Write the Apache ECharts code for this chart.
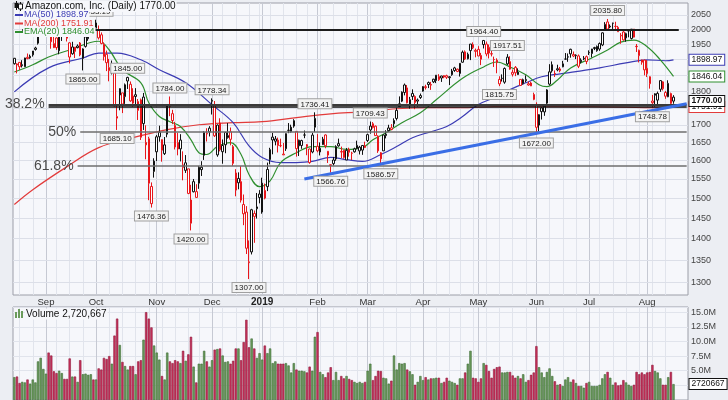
<!DOCTYPE html>
<html><head><meta charset="utf-8">
<script src="https://cdn.jsdelivr.net/npm/echarts@6/dist/echarts.min.js"></script>
<style>html,body{margin:0;padding:0;background:#eceef3}#c{width:728px;height:400px}</style>
</head><body><div id="c"></div>
<script>
// ---------- DATA ----------
const tradingDays = [
  ['2018-08',[16,17,20,21,22,23,24,27,28,29,30,31]],
  ['2018-09',[4,5,6,7,10,11,12,13,14,17,18,19,20,21,24,25,26,27,28]],
  ['2018-10',[1,2,3,4,5,8,9,10,11,12,15,16,17,18,19,22,23,24,25,26,29,30,31]],
  ['2018-11',[1,2,5,6,7,8,9,12,13,14,15,16,19,20,21,23,26,27,28,29,30]],
  ['2018-12',[3,4,6,7,10,11,12,13,14,17,18,19,20,21,24,26,27,28,31]],
  ['2019-01',[2,3,4,7,8,9,10,11,14,15,16,17,18,22,23,24,25,28,29,30,31]],
  ['2019-02',[1,4,5,6,7,8,11,12,13,14,15,19,20,21,22,25,26,27,28]],
  ['2019-03',[1,4,5,6,7,8,11,12,13,14,15,18,19,20,21,22,25,26,27,28,29]],
  ['2019-04',[1,2,3,4,5,8,9,10,11,12,15,16,17,18,22,23,24,25,26,29,30]],
  ['2019-05',[1,2,3,6,7,8,9,10,13,14,15,16,17,20,21,22,23,24,28,29,30,31]],
  ['2019-06',[3,4,5,6,7,10,11,12,13,14,17,18,19,20,21,24,25,26,27,28]],
  ['2019-07',[1,2,3,5,8,9,10,11,12,15,16,17,18,19,22,23,24,25,26,29,30,31]],
  ['2019-08',[1,2,5,6,7,8,9,12,13,14,15]]
];
const emptySlots = ['e1','e2','e3','e4','e5'];
const prevClose = 1882.62;
// [open, high, low, close]
const ohlc = [
 [1903.9,1905.0,1883.6,1886.5],[1885.8,1888.0,1855.6,1882.2],[1890.6,1891.8,1866.1,1876.7],[1880.0,1897.8,1874.4,1883.4],
 [1876.6,1905.8,1876.6,1904.9],[1907.2,1919.5,1900.8,1902.9],[1910.5,1916.0,1902.5,1905.4],[1915.0,1927.7,1909.3,1927.7],
 [1937.7,1941.8,1928.9,1932.8],[1953.5,1998.7,1948.9,1998.1],[1997.4,2025.6,1986.9,2002.4],[2007.0,2022.4,2004.7,2012.7],
 // Sep
 [2026.5,2050.5,2013.0,2039.5],[2038.1,2040.4,1989.9,1994.8],[2006.5,2007.5,1935.2,1958.3],[1938.7,1975.2,1937.4,1952.1],
 [1971.0,1973.0,1931.5,1939.0],[1928.3,1988.9,1917.0,1987.2],[1994.0,1994.0,1961.0,1990.0],[2000.0,2009.8,1986.2,1989.9],
 [1992.9,1993.7,1959.2,1970.2],[1954.7,1956.8,1887.4,1908.0],[1918.7,1958.2,1915.4,1941.0],[1940.5,1940.8,1904.9,1926.4],
 [1938.8,1949.5,1936.5,1944.3],[1954.2,1957.3,1910.5,1915.0],[1903.8,1936.5,1865.0,1934.4],[1942.9,1975.9,1938.9,1974.6],
 [1968.5,1995.3,1961.5,1974.9],[1993.2,2016.2,1988.6,2013.0],[2004.4,2026.5,1996.5,2003.0],
 // Oct
 [2021.99,2033.19,2003.6,2004.4],[1999.0,2013.4,1965.8,1971.3],[1981.7,1989.7,1949.8,1952.8],[1949.0,1956.0,1896.6,1909.4],
 [1917.0,1929.1,1862.8,1889.7],[1874.0,1902.0,1830.7,1864.4],[1860.0,1896.7,1852.3,1870.3],[1857.9,1858.6,1754.4,1755.3],
 [1724.0,1755.4,1685.1,1719.4],[1808.0,1809.0,1742.5,1788.6],[1795.0,1795.1,1734.2,1761.0],[1783.5,1823.9,1761.6,1820.0],
 [1842.8,1845.0,1807.0,1831.7],[1821.5,1830.2,1767.9,1770.7],[1785.2,1809.1,1753.0,1764.0],[1784.0,1809.5,1756.0,1789.3],
 [1742.2,1776.3,1714.0,1768.7],[1773.7,1777.7,1656.6,1664.2],[1703.3,1794.8,1685.0,1782.2],[1649.6,1698.5,1603.0,1642.8],
 [1660.0,1665.7,1495.0,1538.9],[1486.2,1541.0,1476.36,1530.4],[1570.0,1605.7,1553.6,1598.0],
 // Nov
 [1623.5,1670.5,1598.4,1665.5],[1678.6,1697.4,1651.8,1665.5],[1657.6,1658.1,1596.4,1627.8],[1618.4,1665.0,1614.6,1642.8],
 [1673.0,1759.2,1664.1,1755.5],[1755.0,1784.0,1725.1,1754.9],[1732.5,1743.9,1701.9,1712.4],[1698.2,1708.6,1630.0,1636.9],
 [1649.3,1677.1,1613.8,1631.2],[1656.3,1673.0,1597.1,1631.6],[1581.0,1624.8,1546.5,1587.8],[1573.0,1614.5,1566.0,1593.4],
 [1577.0,1577.0,1510.4,1512.3],[1437.5,1534.8,1420.0,1495.5],[1543.0,1550.0,1515.0,1516.7],[1517.0,1536.2,1501.8,1502.1],
 [1539.0,1584.8,1524.2,1581.3],[1575.0,1597.7,1558.0,1581.4],[1613.9,1681.5,1601.2,1677.8],[1675.0,1690.0,1652.3,1673.6],
 [1679.5,1696.0,1666.5,1690.2],
 // Dec
 [1769.5,1778.34,1730.0,1772.4],[1756.0,1770.3,1665.0,1668.4],[1614.9,1701.1,1609.9,1699.2],[1705.1,1718.9,1624.7,1629.1],
 [1623.8,1658.0,1590.9,1641.0],[1678.0,1679.5,1619.6,1643.2],[1669.0,1705.0,1660.3,1663.5],[1680.0,1692.1,1641.5,1658.4],
 [1638.0,1642.6,1585.0,1591.9],[1566.0,1576.1,1505.0,1520.9],[1540.0,1567.6,1523.0,1551.5],[1543.1,1584.5,1489.0,1495.1],
 [1484.0,1509.5,1432.7,1460.8],[1465.0,1480.0,1364.0,1377.5],[1346.0,1396.0,1307.0,1344.0],[1368.9,1473.2,1363.0,1470.9],
 [1454.2,1469.0,1390.3,1461.6],[1473.4,1513.5,1449.0,1478.0],[1510.8,1520.8,1487.0,1502.0],
 // Jan
 [1465.2,1553.4,1460.9,1539.1],[1520.0,1538.0,1497.1,1500.3],[1530.0,1594.0,1518.3,1575.4],[1602.3,1634.6,1589.2,1629.5],
 [1664.7,1676.6,1616.6,1656.6],[1653.0,1667.8,1641.4,1659.4],[1641.0,1663.3,1621.6,1656.2],[1640.6,1660.3,1636.2,1640.6],
 [1615.0,1648.2,1614.7,1617.2],[1632.0,1675.2,1626.0,1674.6],[1684.2,1705.0,1675.9,1683.8],[1680.0,1700.2,1677.5,1693.2],
 [1712.0,1716.2,1691.5,1696.2],[1681.0,1681.9,1610.2,1632.2],[1656.0,1657.4,1612.0,1640.0],[1641.1,1657.3,1631.8,1654.9],
 [1670.5,1683.5,1661.6,1670.6],[1643.6,1645.0,1614.1,1637.9],[1631.3,1632.4,1590.7,1593.9],[1623.0,1677.0,1619.4,1670.4],
 [1692.9,1736.41,1679.1,1718.7],
 // Feb
 [1638.9,1673.1,1622.0,1626.2],[1623.0,1649.6,1613.5,1633.3],[1643.3,1665.3,1642.5,1658.8],[1670.8,1672.3,1633.3,1640.3],
 [1625.0,1625.5,1592.9,1614.4],[1586.0,1588.6,1566.76,1588.2],[1601.0,1609.3,1586.0,1591.0],[1604.0,1641.7,1598.9,1638.0],
 [1646.3,1660.4,1637.6,1640.0],[1624.5,1637.9,1606.4,1622.7],[1627.9,1628.9,1604.5,1608.0],[1601.0,1634.0,1600.6,1627.6],
 [1630.0,1634.9,1610.1,1622.1],[1619.9,1623.6,1600.9,1619.4],[1623.5,1634.9,1621.2,1631.6],[1641.5,1654.6,1630.4,1633.0],
 [1626.0,1640.0,1616.1,1636.4],[1628.2,1641.8,1615.1,1641.1],[1635.3,1651.8,1633.8,1639.8],
 // Mar
 [1655.1,1674.3,1651.0,1671.7],[1685.0,1709.43,1674.4,1696.2],[1703.0,1707.8,1689.0,1692.4],[1696.0,1697.8,1668.3,1669.0],
 [1667.4,1669.8,1620.5,1626.0],[1604.0,1622.7,1586.57,1620.8],[1626.1,1672.3,1626.0,1670.6],[1669.0,1684.3,1661.0,1673.1],
 [1683.0,1700.0,1679.4,1690.8],[1691.2,1702.0,1684.3,1686.2],[1703.0,1718.8,1693.1,1712.4],[1718.4,1750.0,1712.6,1742.2],
 [1753.5,1784.2,1753.5,1761.9],[1769.9,1799.5,1767.0,1797.3],[1796.3,1823.8,1787.3,1819.3],[1810.2,1819.0,1763.1,1764.8],
 [1757.8,1782.7,1747.5,1774.3],[1793.0,1805.8,1773.4,1783.8],[1784.1,1787.5,1745.7,1765.7],[1770.0,1777.9,1753.5,1773.4],
 [1786.6,1792.9,1776.6,1780.8],
 // Apr
 [1800.1,1815.7,1798.7,1814.2],[1811.0,1820.0,1805.1,1814.0],[1826.7,1830.0,1809.6,1820.7],[1820.7,1828.8,1804.2,1818.9],
 [1829.0,1838.6,1825.2,1837.3],[1833.2,1850.2,1825.1,1849.9],[1845.5,1853.1,1831.8,1835.8],[1841.0,1848.0,1828.8,1847.3],
 [1848.7,1850.0,1840.3,1844.1],[1848.4,1851.5,1838.0,1843.1],[1842.0,1846.9,1818.9,1844.9],[1851.4,1869.8,1848.0,1863.0],
 [1873.0,1876.5,1860.4,1864.8],[1868.8,1870.8,1859.5,1861.7],[1855.4,1888.4,1845.6,1887.3],[1891.2,1929.3,1889.6,1923.8],
 [1925.0,1929.7,1898.2,1901.8],[1917.0,1922.5,1900.3,1902.3],[1929.0,1951.0,1898.0,1950.6],[1949.0,1956.3,1934.1,1938.4],
 [1930.1,1935.7,1907.0,1926.5],
 // May
 [1933.1,1943.6,1910.6,1911.5],[1913.3,1921.6,1881.9,1900.8],[1949.0,1964.4,1936.0,1962.5],[1918.0,1959.0,1910.5,1950.6],
 [1940.0,1949.1,1903.4,1921.0],[1918.9,1935.4,1910.0,1917.8],[1900.0,1909.4,1876.0,1899.9],[1898.0,1903.8,1856.0,1890.0],
 [1836.6,1846.5,1815.75,1822.7],[1839.8,1852.4,1830.0,1840.1],[1828.0,1874.4,1823.0,1871.2],[1885.9,1917.51,1882.3,1907.6],
 [1893.1,1910.5,1867.3,1869.0],[1852.7,1867.8,1845.7,1859.0],[1874.8,1879.0,1846.9,1857.5],[1851.8,1871.5,1851.0,1859.7],
 [1836.6,1836.6,1816.2,1818.0],[1835.9,1839.1,1821.0,1823.3],[1832.8,1849.3,1827.4,1836.4],[1823.1,1830.0,1817.0,1819.2],
 [1825.5,1829.5,1816.0,1816.3],[1790.0,1795.6,1772.7,1775.1],
 // Jun
 [1760.0,1766.3,1672.0,1692.7],[1699.2,1730.8,1680.9,1729.6],[1749.6,1752.0,1715.3,1738.5],[1737.7,1760.0,1726.1,1754.4],
 [1763.7,1806.3,1759.5,1804.0],[1822.0,1884.9,1818.0,1860.6],[1883.3,1893.7,1858.0,1863.7],[1854.0,1865.0,1844.4,1855.3],
 [1866.7,1883.1,1862.2,1870.3],[1864.0,1876.0,1859.0,1869.7],[1876.5,1895.7,1875.0,1886.0],[1901.4,1921.0,1899.8,1901.4],
 [1907.8,1919.6,1892.5,1908.8],[1933.3,1935.2,1905.8,1918.2],[1916.1,1926.0,1907.7,1911.3],[1912.7,1916.9,1901.3,1913.9],
 [1911.8,1916.4,1872.4,1878.3],[1892.5,1903.8,1887.3,1897.8],[1902.0,1911.2,1898.0,1904.3],[1909.1,1912.9,1884.8,1893.6],
 // Jul
 [1923.0,1929.8,1914.7,1922.2],[1919.4,1934.8,1906.6,1934.3],[1935.9,1941.6,1930.5,1939.0],[1928.6,1945.9,1925.3,1942.9],
 [1934.1,1956.0,1928.3,1952.3],[1947.8,1990.0,1943.8,1988.3],[1996.5,2024.9,1995.4,2017.4],[2025.6,2035.8,1995.3,2001.1],
 [2008.3,2017.0,2003.9,2011.0],[2021.4,2022.9,2001.6,2021.0],[2010.6,2026.3,2001.2,2009.9],[2007.1,2012.0,1992.0,1992.0],
 [1980.0,1987.5,1951.6,1977.9],[1991.2,1996.0,1962.2,1964.5],[1971.1,1989.0,1958.3,1985.6],[1996.0,1997.8,1973.1,1994.5],
 [1969.3,2001.3,1965.9,2000.8],[2001.0,2001.2,1972.7,1973.8],[1942.0,1950.9,1924.5,1943.1],[1930.0,1932.2,1890.5,1912.5],
 [1891.1,1899.6,1883.3,1898.5],[1898.1,1899.6,1849.4,1866.8],
 // Aug
 [1871.7,1897.9,1844.0,1855.3],[1845.1,1846.4,1808.0,1823.2],[1770.2,1788.7,1748.78,1765.1],[1792.2,1793.8,1753.4,1787.8],
 [1773.0,1798.9,1757.0,1793.4],[1806.0,1834.3,1798.1,1832.9],[1829.0,1831.1,1802.2,1807.6],[1796.0,1801.0,1777.0,1784.9],
 [1783.0,1833.9,1781.8,1824.3],[1793.0,1795.7,1757.2,1763.0],[1782.0,1788.0,1762.0,1770.0]
];
// volume, millions of shares
const volumeM = [
 3.9,4.0,2.9,3.1,3.0,3.5,2.8,3.5,3.0,6.6, 7.2,5.3,4.5,8.1,7.6,4.9,4.6,5.0,4.6,3.6,
 3.6,7.1,4.0,4.0,3.1,6.8,4.4,4.5,4.3,4.4, 3.5,3.5,5.4,5.2,7.2,7.0,7.5,6.2,11.0,13.9,
 9.4,6.5,5.8,5.2,5.8,5.8,4.4,6.6,6.8,10.3, 15.0,13.9,12.4,9.3,8.1,6.9,4.1,3.5,8.1,6.6,
 6.3,6.8,6.6,6.3,8.4,6.7,7.8,10.8,5.7,3.0, 6.2,6.2,8.4,6.6,5.7,6.8,8.6,8.7,8.8,7.6,
 6.5,6.6,6.2,6.7,8.8,8.8,6.8,9.9,13.7,9.0, 10.5,8.8,7.2,8.0,6.9,9.3,8.0,8.8,6.3,6.6,
 6.2,6.2,6.2,6.3,5.9,4.7,6.3,5.2,5.0,5.0, 4.9,4.7,5.7,5.0,10.8,11.6,4.8,4.4,3.9,4.7,
 5.6,3.4,4.8,3.4,4.1,3.7,4.1,3.6,3.4,3.1, 2.9,3.1,2.9,3.1,5.0,6.2,3.4,4.1,5.0,4.95,
 3.8,3.7,2.8,3.3,7.6,5.2,6.3,6.2,6.3,5.2, 4.9,4.4,2.6,3.1,4.1,3.4,3.9,3.5,3.7,3.7,
 3.8,3.8,2.9,3.1,3.8,3.3,3.1,2.9,2.6,3.7, 3.7,4.7,6.2,8.4,3.8,3.7,3.1,3.7,6.3,6.0,
 4.95,3.8,5.3,5.6,5.7,4.7,4.7,4.8,4.8,4.2, 3.8,4.1,3.7,4.4,3.1,3.4,4.3,4.7,9.2,5.6,
 4.7,3.9,4.8,5.4,4.1,3.2,2.6,2.7,2.4,3.5, 3.9,3.1,3.5,2.9,2.4,2.4,2.1,2.9,3.1,2.4,
 2.4,2.4,2.6,3.7,4.4,4.8,3.8,2.6,3.0,2.5, 2.6,3.4,3.0,2.6,2.4,2.6,4.8,4.4,4.7,4.4,
 4.7,4.8,6.0,4.95,4.7,3.7,2.6,2.6,3.9,4.8, 2.720667
];
// moving averages: [day index, value]
const ema20Pts = [[0,1860],[7,1883],[13,1908],[21,1931],[32,1960],[36,1931],[41,1867],[48,1826],[51,1765],[55,1724],[59,1709],[63,1695],[67,1657],[70,1621],[73,1616],[77,1638],[82,1649],[86,1616],[89,1562],[93,1530],[97,1545],[101,1594],[107,1621],[113,1638],[120,1638],[126,1630],[132,1635],[136,1657],[141,1677],[147,1706],[154,1735],[160,1774],[170,1840],[178,1876],[183,1892],[188,1876],[194,1851],[199,1820],[202,1814],[206,1835],[211,1873],[219,1905],[225,1931],[230,1957],[235,1964],[240,1942],[245,1899],[250,1846.04]];
const ma50Pts = [[0,1798],[13,1873],[26,1905],[32,1921],[39,1921],[48,1899],[55,1867],[65,1826],[75,1759],[83,1706],[89,1640],[94,1608],[101,1594],[107,1594],[113,1597],[120,1608],[126,1602],[132,1597],[139,1616],[145,1638],[151,1663],[158,1680],[164,1695],[170,1724],[176,1760],[182,1780],[188,1805],[194,1826],[200,1845],[207,1854],[213,1861],[222,1873],[232,1889],[240,1899],[247,1896],[250,1898.97]];
const ma200Pts = [[0,1484],[7,1522],[20,1583],[32,1635],[45,1663],[58,1686],[70,1700],[83,1706],[94,1709],[107,1721],[120,1732],[132,1738],[145,1747],[158,1750],[169,1750],[182,1753],[194,1753],[219,1753],[245,1750],[250,1751.91]];
const priceTicks = [2050,2000,1950,1900,1850,1800,1750,1700,1650,1600,1550,1500,1450,1400,1350,1300];
// labelled highs / lows: [day index, price, 'h'|'l']
const pivotLabels = [[31,2033.19,'h'],[26,1865.00,'l'],[43,1845.00,'h'],[39,1685.10,'l'],[59,1784.00,'h'],[52,1476.36,'l'],[75,1778.34,'h'],[67,1420.00,'l'],[89,1307.00,'l'],[114,1736.41,'h'],[120,1566.76,'l'],[135,1709.43,'h'],[139,1586.57,'l'],[178,1964.40,'h'],[187,1917.51,'h'],[184,1815.75,'l'],[198,1672.00,'l'],[225,2035.80,'h'],[242,1748.78,'l']];
const fibLevels = [['38.2%',1760,13],['50%',1680,25],['61.8%',1585,24]];
const supportLevel = [1752,13];
const resistanceLevel = [2000,3,252];
const trendLine = [[110,1550],[255,1762]];
const lastValues = {close:1770.00, ma50:1898.97, ma200:1751.91, ema20:1846.04, volume:2720667};

// ---------- BUILD ----------
const FONT = '"Liberation Sans", Arial, sans-serif';
const RED = '#e8161b', BLACK = '#111111', HOLLOW = '#ffffff', YELLOW = '#f3e22a';
const VOL_UP = '#6a9a5b', VOL_UP_B = '#3e6b35', VOL_DN = '#c8305a', VOL_DN_B = '#8f1b3d';
const C_MA50 = '#3c3cb4', C_MA200 = '#e23b3b', C_EMA = '#2f8f2f';
const PLOT_BG = '#f6f7fb';

const dates = [];
tradingDays.forEach(([m, ds]) => ds.forEach(d => dates.push(m + '-' + String(d).padStart(2, '0'))));
const cats = dates.concat(emptySlots);
const monthNames = ['Jan','Feb','Mar','Apr','May','Jun','Jul','Aug','Sep','Oct','Nov','Dec'];
const monthStart = {}, weekStart = {};
dates.forEach((d, i) => {
  if (i === 0) return;
  const p = dates[i - 1];
  if (d.slice(0, 7) !== p.slice(0, 7)) {
    const mo = +d.slice(5, 7);
    monthStart[i] = mo === 1 ? '{y|' + d.slice(0, 4) + '}' : monthNames[mo - 1];
  }
  const dw = new Date(d + 'T00:00:00Z').getUTCDay(), pw = new Date(p + 'T00:00:00Z').getUTCDay();
  if (dw <= pw) weekStart[i] = true;
});

const candleData = ohlc.map((r, i) => {
  const [o, h, l, c] = r;
  const prev = i === 0 ? prevClose : ohlc[i - 1][3];
  const base = c < prev ? RED : BLACK;
  const last = i === ohlc.length - 1;
  return {value: [o, c, l, h], itemStyle: {color: HOLLOW, color0: last ? YELLOW : base, borderColor: base, borderColor0: last ? BLACK : base}};
});
const volData = volumeM.map((v, i) => {
  const c = ohlc[i][3], prev = i === 0 ? prevClose : ohlc[i - 1][3];
  const up = c >= prev;
  return {value: v * 1e6, itemStyle: {color: up ? VOL_UP : VOL_DN, borderColor: up ? VOL_UP_B : VOL_DN_B}};
});

const tagLabel = (color, bold) => ({
  show: true, position: 'right', distance: 16, formatter: p => p.value.toFixed(2),
  fontSize: 8.5, fontFamily: FONT, color: '#111', fontWeight: bold ? 'bold' : 'normal',
  backgroundColor: '#ffffff', borderColor: color, borderWidth: 1, padding: [1, 2, 0, 2]
});

const chart = echarts.init(document.getElementById('c'), null, {renderer: 'canvas'});
const mainGrid = {left: 13, right: 40, top: 3, height: 292, show: true, backgroundColor: PLOT_BG, borderColor: '#9c9ea8', borderWidth: 1};
const volGrid = {left: 13, right: 40, top: 307, height: 103.7, show: true, backgroundColor: PLOT_BG, borderColor: '#9c9ea8', borderWidth: 1};

const weekAxis = (g) => ({type: 'category', gridIndex: g, data: cats, position: 'top', boundaryGap: true,
  axisLine: {show: false}, axisTick: {show: false}, axisLabel: {show: false},
  splitLine: {show: true, alignWithLabel: true, interval: (i) => !!weekStart[i], lineStyle: {color: '#e1e4ec', width: 1}}});
const monthAxis = (g, labels) => ({type: 'category', gridIndex: g, data: cats, position: 'bottom', boundaryGap: true,
  axisLine: {show: false}, axisTick: {show: false},
  axisLabel: {show: labels, interval: (i) => monthStart[i] !== undefined, formatter: (v, i) => monthStart[i] || '',
    fontSize: 9.5, color: '#333', fontFamily: FONT, margin: 2,
    rich: {y: {fontSize: 10, fontWeight: 'bold', color: '#222', fontFamily: FONT}}},
  splitLine: {show: true, alignWithLabel: true, interval: (i) => monthStart[i] !== undefined, lineStyle: {color: '#c6c9d3', width: 1}}});

const LZ = 100;
const legendText = (x, y, text, size, color) => ({type: 'text', z: LZ, style: {x, y, text, font: size + 'px ' + FONT, fill: color,
  verticalAlign: 'middle', backgroundColor: PLOT_BG, padding: [1, 1, 0, 1]}});

const option = {
  animation: false,
  backgroundColor: '#eceef3',
  grid: [mainGrid, volGrid],
  xAxis: [weekAxis(0), monthAxis(0, true), weekAxis(1), monthAxis(1, false)],
  yAxis: [
    {type: 'log', logBase: 10, gridIndex: 0, min: 1272, max: 2092, position: 'right',
      axisLine: {show: false}, axisTick: {show: false}, axisLabel: {show: false}, splitLine: {show: false}},
    {type: 'value', gridIndex: 1, min: 0, max: 15880000, interval: 2500000, position: 'right',
      axisLine: {show: false}, axisTick: {show: false},
      axisLabel: {showMaxLabel: false, margin: 3, fontSize: 9, color: '#444', fontFamily: FONT,
        formatter: v => v >= 5e6 ? (v / 1e6).toFixed(1) + 'M' : ''},
      splitLine: {show: true, lineStyle: {color: '#e1e4ec'}}}
  ],
  series: [
    {type: 'line', name: 'MA(200)', xAxisIndex: 1, yAxisIndex: 0, data: ma200Pts, smooth: 0.4, showSymbol: false, symbol: 'none',
      lineStyle: {color: C_MA200, width: 1.2}, silent: true, z: 2,
      markLine: {z: 1, silent: true, symbol: ['none', 'none'], animation: false,
        lineStyle: {color: '#dcdfe8', width: 1, type: 'solid'},
        label: {show: true, position: 'end', distance: 3, formatter: p => String(p.value), color: '#444', fontSize: 9, fontFamily: FONT},
        data: priceTicks.map(v => ({yAxis: v}))},
      markPoint: {z: 6, symbolSize: 0, silent: true, label: tagLabel(C_MA200), data: [{coord: [250, lastValues.ma200], value: lastValues.ma200}]}},
    {type: 'line', name: 'MA(50)', xAxisIndex: 1, yAxisIndex: 0, data: ma50Pts, smooth: 0.4, showSymbol: false, symbol: 'none',
      lineStyle: {color: C_MA50, width: 1.2}, silent: true, z: 2,
      markPoint: {z: 6, symbolSize: 0, silent: true, label: tagLabel(C_MA50), data: [{coord: [250, lastValues.ma50], value: lastValues.ma50}]}},
    {type: 'line', name: 'EMA(20)', xAxisIndex: 1, yAxisIndex: 0, data: ema20Pts, smooth: 0.4, showSymbol: false, symbol: 'none',
      lineStyle: {color: C_EMA, width: 1.2}, silent: true, z: 2,
      markPoint: {z: 6, symbolSize: 0, silent: true, label: tagLabel(C_EMA), data: [{coord: [250, lastValues.ema20], value: lastValues.ema20}]}},
    {type: 'candlestick', name: 'AMZN', xAxisIndex: 1, yAxisIndex: 0, data: candleData, barWidth: 2, silent: true, z: 3,
      itemStyle: {borderWidth: 1},
      markLine: {z: 5, silent: true, symbol: ['none', 'none'], animation: false,
        label: {show: false},
        data: [
          [{coord: [resistanceLevel[1], resistanceLevel[0]], lineStyle: {color: '#1c1c1c', width: 2, type: 'solid'}}, {coord: [resistanceLevel[2], resistanceLevel[0]]}],
          [{coord: [supportLevel[1], supportLevel[0]], lineStyle: {color: '#111', width: 1.5, type: 'solid'}}, {coord: [255, supportLevel[0]]}],
          ...fibLevels.map(([name, v, s], k) => [
            {coord: [s, v], lineStyle: {color: k === 0 ? '#3a3a3a' : '#6e6e6e', width: k === 0 ? 2 : 1.5, type: 'solid'},
              label: {show: true, position: 'start', distance: 4, formatter: name, fontSize: 14, color: '#4a4a4a', fontFamily: FONT}},
            {coord: [255, v]}]),
          [{coord: trendLine[0], lineStyle: {color: '#3a6ee6', width: 3, type: 'solid'}}, {coord: trendLine[1]}]
        ]},
      markPoint: {z: 8, symbolSize: 0, silent: true,
        label: {show: true, formatter: p => p.value.toFixed(2), fontSize: 8, color: '#222', fontFamily: FONT,
          backgroundColor: '#f3f3f3', borderColor: '#a0a0a0', borderWidth: 1, padding: [1, 2, 0, 2]},
        data: pivotLabels.map(([i, v, t]) => ({coord: [i, v], value: v, label: {position: t === 'h' ? 'top' : 'bottom', distance: 4}}))
          .concat([{coord: [250, lastValues.close], value: lastValues.close, label: tagLabel('#111', true)}])}},
    {type: 'bar', name: 'Volume', xAxisIndex: 3, yAxisIndex: 1, data: volData, barWidth: '88%', silent: true,
      itemStyle: {borderWidth: 0.6},
      markPoint: {symbolSize: 0, silent: true,
        data: [{coord: [250, lastValues.volume], value: lastValues.volume}],
        label: {show: true, position: 'right', distance: 16, formatter: p => String(p.value), fontSize: 8.5, color: '#111', fontFamily: FONT,
          backgroundColor: '#fff', borderColor: '#111', borderWidth: 1, padding: [1, 2, 0, 2]}}}
  ],
  graphic: [
    {type: 'rect', z: LZ, shape: {x: 16, y: 1, width: 1, height: 9}, style: {fill: '#111'}},
    {type: 'rect', z: LZ, shape: {x: 14.5, y: 3, width: 4, height: 5}, style: {fill: '#111'}},
    {type: 'rect', z: LZ, shape: {x: 20, y: 2, width: 1, height: 9}, style: {fill: '#111'}},
    {type: 'rect', z: LZ, shape: {x: 18.5, y: 4, width: 4, height: 5}, style: {fill: '#fff', stroke: '#111', lineWidth: 1}},
    legendText(24, 6.5, 'Amazon.com, Inc. (Daily) ' + lastValues.close.toFixed(2), 10, '#111'),
    {type: 'line', z: LZ, shape: {x1: 15, y1: 15, x2: 23, y2: 15}, style: {stroke: C_MA50, lineWidth: 2}},
    legendText(23, 15, 'MA(50) ' + lastValues.ma50.toFixed(2), 9, C_MA50),
    {type: 'line', z: LZ, shape: {x1: 15, y1: 23.5, x2: 23, y2: 23.5}, style: {stroke: C_MA200, lineWidth: 2}},
    legendText(23, 23.5, 'MA(200) ' + lastValues.ma200.toFixed(2), 9, C_MA200),
    {type: 'line', z: LZ, shape: {x1: 15, y1: 32, x2: 23, y2: 32}, style: {stroke: C_EMA, lineWidth: 2}},
    legendText(23, 32, 'EMA(20) ' + lastValues.ema20.toFixed(2), 9, C_EMA),
    {type: 'rect', z: LZ, shape: {x: 15, y: 312, width: 2, height: 6}, style: {fill: VOL_UP}},
    {type: 'rect', z: LZ, shape: {x: 18, y: 309, width: 2, height: 9}, style: {fill: VOL_UP}},
    {type: 'rect', z: LZ, shape: {x: 21, y: 311, width: 2, height: 7}, style: {fill: VOL_UP}},
    legendText(25, 314, 'Volume ' + lastValues.volume.toLocaleString('en-US'), 10, '#111')
  ]
};
chart.setOption(option);
</script></body></html>
